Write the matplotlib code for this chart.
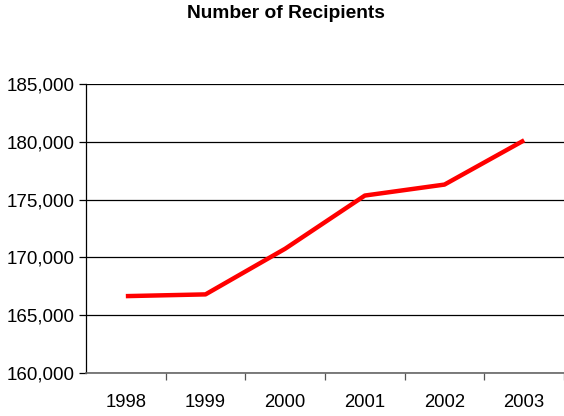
import numpy as np
import matplotlib.pyplot as plt
from matplotlib.ticker import FuncFormatter

years = ["1998", "1999", "2000", "2001", "2002", "2003"]
recipients = [166650, 166800, 170750, 175350, 176300, 180130]

plt.rcParams['font.family'] = ['Liberation Sans', 'DejaVu Sans']

fig = plt.figure(figsize=(5.64, 4.16), dpi=100)
ax = fig.add_axes([86 / 564, 1 - 373 / 416, (564 - 86) / 564, (373 - 84) / 416])

x = np.arange(len(years))
ax.plot(x, recipients, color="#ff0000", lw=3.2, solid_capstyle="butt", zorder=3)

ax.set_xlim(-0.5, len(years) - 0.5)
ax.set_ylim(160000, 185000)
ax.set_yticks(np.arange(160000, 185001, 5000))
ax.yaxis.set_major_formatter(FuncFormatter(lambda v, p: f"{int(v):,}"))
ax.grid(axis="y", color="#000000", lw=0.9)

# category labels centred, ticks on the boundaries
ax.set_xticks(x + 0.5)
ax.set_xticks(x, minor=True)
ax.set_xticklabels([])
ax.set_xticklabels(years, minor=True)
ax.tick_params(axis="x", which="major", length=5, color="#555555", width=0.9)
ax.tick_params(axis="x", which="minor", length=0, pad=15, labelsize=13.3)
ax.tick_params(axis="y", length=5, width=0.9, pad=3, labelsize=13.5)

for s in ["top", "right"]:
    ax.spines[s].set_visible(False)
ax.spines["left"].set_color("#000000")
ax.spines["bottom"].set_color("#666666")
ax.spines["left"].set_linewidth(0.9)
ax.spines["bottom"].set_linewidth(1.2)

fig.text(286 / 564, 1 - 14 / 416, "Number of Recipients", ha="center", va="center",
         fontsize=13.8, fontweight="bold")

fig.savefig("out.png", dpi=100)
